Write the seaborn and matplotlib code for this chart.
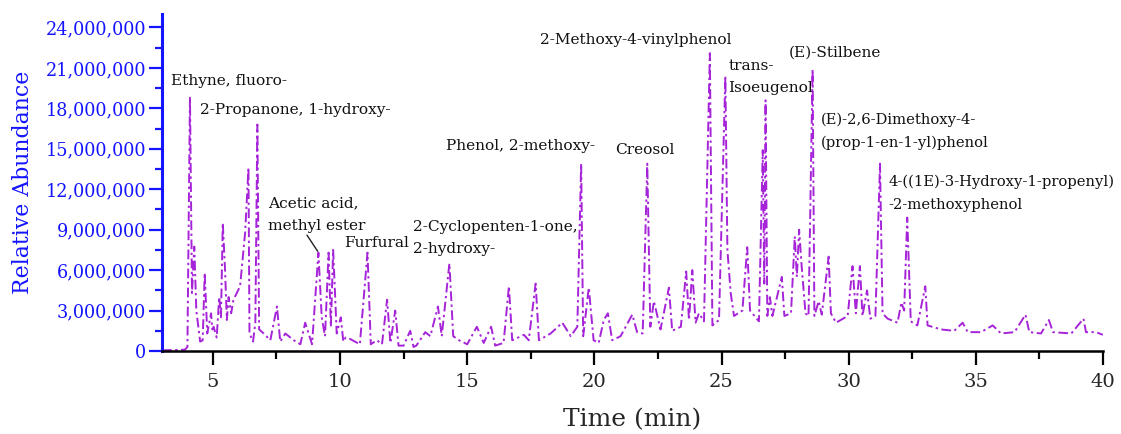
import pandas as pd
import matplotlib
matplotlib.use('Agg')
import matplotlib.pyplot as plt
import seaborn as sns
import numpy as np

# retention time (min) and abundance (millions)
time_min=[3.0,3.9,4.0,4.10,4.18,4.27,4.35,4.5,4.6,4.68,4.78,4.93,4.98,5.03,5.15,5.25,5.32,5.39,5.48,5.55,
          5.62,5.72,5.81,6.07,6.27,6.40,6.44,6.58,6.67,6.75,6.82,7.0,7.26,7.52,7.65,7.85,8.18,8.44,8.63,8.90,
          9.15,9.28,9.41,9.55,9.64,9.73,9.87,10.03,10.13,10.22,10.39,10.78,11.08,11.21,11.45,11.65,11.85,11.98,12.17,12.30,
          12.50,12.76,12.89,13.0,13.35,13.55,13.85,14.0,14.30,14.45,14.68,15.0,15.38,15.65,15.94,16.1,16.43,16.64,16.77,17.23,
          17.42,17.69,17.82,18.28,18.74,19.07,19.33,19.48,19.56,19.78,19.97,20.17,20.37,20.53,20.7,21.03,21.49,21.68,21.9,22.08,
          22.2,22.34,22.6,22.93,23.06,23.4,23.61,23.72,23.85,23.98,24.11,24.31,24.54,24.64,24.9,25.15,25.23,25.36,25.49,25.82,
          26.01,26.12,26.47,26.62,26.68,26.73,26.8,26.9,27.0,27.37,27.47,27.73,27.88,27.96,28.05,28.15,28.3,28.42,28.58,28.65,
          28.82,28.94,29.21,29.3,29.5,29.96,30.15,30.28,30.44,30.54,30.72,30.85,31.05,31.23,31.33,31.53,31.92,32.07,32.18,32.30,
          32.44,32.7,33.01,33.1,33.63,34.15,34.48,34.68,35.2,35.66,35.99,36.52,36.95,37.1,37.56,37.87,38.03,38.75,39.23,39.33,
          39.73,39.99]
abund_m=[0.05,0.1,0.3,18.85,4.3,7.75,3.0,0.7,0.8,5.8,1.3,2.8,1.6,1.8,1.0,4.0,2.5,9.5,6.0,2.3,
         4.0,2.8,3.8,4.8,8.8,13.6,1.3,0.7,2.1,16.8,1.6,1.3,0.8,3.3,0.7,1.3,0.8,0.5,2.1,0.5,
         7.3,2.5,1.1,7.3,1.8,7.5,1.3,2.5,0.7,1.0,0.9,0.5,7.3,0.5,0.8,0.5,3.8,0.6,3.0,0.4,
         0.4,1.5,0.3,0.4,1.4,1.1,3.3,1.1,6.5,1.1,0.8,0.5,1.8,0.6,1.8,0.4,0.6,4.8,0.8,1.2,
         0.8,5.0,0.8,1.3,2.1,1.1,1.8,13.9,1.1,4.7,0.8,0.6,2.3,2.8,0.8,1.1,2.7,1.4,1.3,13.9,
         1.8,3.7,1.6,4.7,1.5,1.8,5.9,2.3,6.0,2.1,2.8,2.2,22.1,1.9,2.3,20.4,7.5,4.3,2.6,3.0,
         7.7,3.0,2.2,14.9,5.0,18.6,2.6,4.0,2.6,5.5,2.6,2.8,8.5,5.5,9.0,6.3,2.8,2.6,20.9,2.6,
         3.7,2.7,7.0,2.8,2.1,2.6,6.3,2.8,6.3,2.6,4.5,2.4,2.6,13.9,2.8,2.4,2.1,3.6,3.0,9.9,
         2.2,1.9,4.8,1.9,1.6,1.5,2.1,1.4,1.4,1.9,1.3,1.4,2.7,1.4,1.3,2.3,1.4,1.3,2.4,1.4,
         1.4,1.2]

# compound labels and where they sit (time, abundance in millions)
labels=['Ethyne, fluoro-','2-Propanone, 1-hydroxy-','Acetic acid,\nmethyl ester','Furfural',
        '2-Cyclopenten-1-one,\n2-hydroxy-','Phenol, 2-methoxy-','Creosol','2-Methoxy-4-vinylphenol',
        'trans-\nIsoeugenol','(E)-Stilbene','(E)-2,6-Dimethoxy-4-\n(prop-1-en-1-yl)phenol',
        '4-((1E)-3-Hydroxy-1-propenyl)\n-2-methoxyphenol']
label_t=[3.34,4.50,7.16,10.18,12.86,14.17,20.83,17.88,25.27,27.66,28.91,31.55]
label_y=[20.0,17.9,10.1,8.0,8.4,15.2,14.9,23.1,20.3,22.1,16.3,11.7]

df=pd.DataFrame({'time':time_min,'abund':np.array(abund_m)*1e6})

sns.set_style('ticks')
plt.rcParams['font.family']=['DejaVu Serif']
blue='#1414ff'
purple='#a624d8'

fig=plt.figure(figsize=(11.21,4.34),dpi=100)
ax=fig.add_axes([0.1445,0.1912,0.8395,0.7765])
sns.lineplot(data=df,x='time',y='abund',estimator=None,sort=False,color=purple,
             linewidth=1.4,linestyle=(0,(5,1.8,1.2,1.8)),ax=ax)

for txt,t,y in zip(labels,label_t,label_y):
    fs=10.6 if len(txt)>40 else 11.1
    ax.text(t,y*1e6,txt,fontsize=fs,va='center',ha='left',linespacing=1.75,color='#111111')
# pointer for the methyl ester peak
ax.plot([8.70,9.12],[8.6e6,7.4e6],color='#222222',lw=1)

ax.set_xlim(3,40)
ax.set_ylim(0,25e6)
ax.set_xticks(np.arange(5,41,5))
ax.set_xticks(np.arange(7.5,40,5),minor=True)
ax.set_yticks(np.arange(0,24e6+1,3e6))
ax.set_yticks(np.arange(1.5e6,25e6,3e6),minor=True)
ax.set_yticklabels(['{:,}'.format(int(v)) for v in np.arange(0,24e6+1,3e6)])

for s in ['top','right']:
    ax.spines[s].set_visible(False)
ax.spines['left'].set_color(blue)
ax.spines['left'].set_linewidth(2.2)
ax.spines['bottom'].set_color('black')
ax.spines['bottom'].set_linewidth(1.8)
ax.tick_params(axis='y',which='major',colors=blue,length=9.5,width=1.6,labelsize=12.7,pad=2)
ax.tick_params(axis='y',which='minor',colors=blue,length=5,width=1.6)
ax.tick_params(axis='x',which='major',color='black',length=10,width=1.6,labelsize=14,pad=6)
ax.tick_params(axis='x',which='minor',color='black',length=5.5,width=1.6)
ax.set_ylabel('Relative Abundance',color=blue,fontsize=15.8,labelpad=8)
ax.set_xlabel('Time (min)',fontsize=18,labelpad=12)

plt.savefig('out.png',dpi=100)
